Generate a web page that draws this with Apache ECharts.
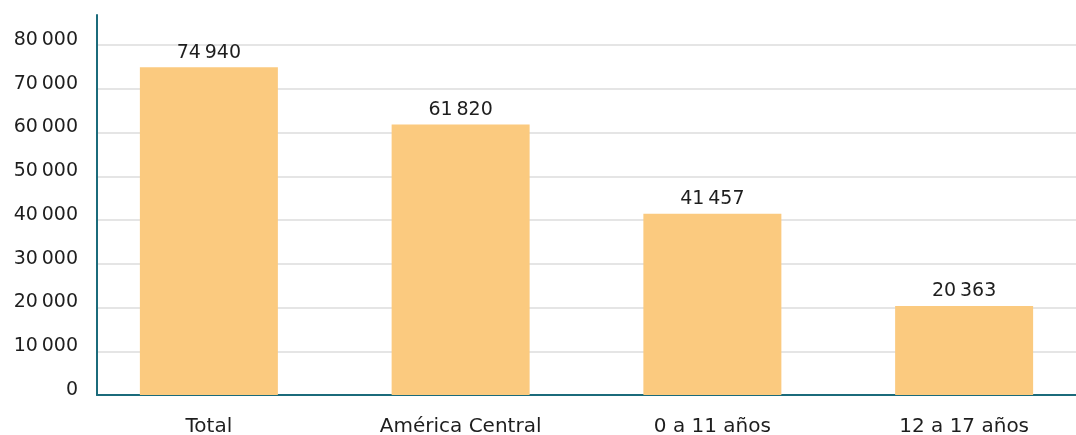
<!DOCTYPE html>
<html><head><meta charset="utf-8">
<script src="https://cdn.jsdelivr.net/npm/echarts@6/dist/echarts.min.js"></script>
<style>html,body{margin:0;padding:0;background:#fff;overflow:hidden}#c{width:1090px;height:435px}</style>
</head><body><div id="c"></div>
<script>
const categories = ['Total', 'América Central', '0 a 11 años', '12 a 17 años'];
const values = [74940, 61820, 41457, 20363];
const yTicks = [0, 10000, 20000, 30000, 40000, 50000, 60000, 70000, 80000];

function fmt(v) {
  const s = String(v);
  return s.length > 3 ? s.slice(0, s.length - 3) + '\u2009' + s.slice(-3) : s;
}
const FONT = '"DejaVu Sans", "Open Sans", sans-serif';
const FS = 19;
const TEAL = '#1b6b7b';
const TXT = '#1e1e1e';
const chart = echarts.init(document.getElementById('c'), null, {renderer: 'canvas'});
chart.setOption({
  animation: false,
  backgroundColor: '#fff',
  textStyle: {fontFamily: FONT},
  grid: [
    {left: 83, right: 0, top: 45, bottom: 40, containLabel: false, outerBoundsMode: 'none'},
    {left: 97, right: 14, top: 15, bottom: 40, containLabel: false, outerBoundsMode: 'none'},
    {left: 97, right: 14, top: 45, bottom: 40, containLabel: false, outerBoundsMode: 'none'}
  ],
  xAxis: [
    {type: 'category', gridIndex: 0, data: categories,
     axisLine: {show: false}, axisTick: {show: false},
     axisLabel: {color: TXT, fontSize: 20, fontFamily: FONT, margin: 22}},
    {type: 'value', gridIndex: 1, min: 0, max: 1,
     axisLine: {show: true, lineStyle: {color: TEAL, width: 2}},
     axisTick: {show: false}, axisLabel: {show: false}, splitLine: {show: false}},
    {type: 'value', gridIndex: 2, min: 0, max: 1, show: false}
  ],
  yAxis: [
    {type: 'value', gridIndex: 0, min: yTicks[0], max: yTicks[yTicks.length - 1], interval: 10000,
     offset: -14,
     axisLine: {show: false}, axisTick: {show: false},
     axisLabel: {color: TXT, fontSize: FS, fontFamily: FONT, margin: 19, formatter: fmt,
                 verticalAlign: 'bottom', lineHeight: 10},
     splitLine: {show: false}},
    {type: 'value', gridIndex: 1, min: 0, max: 1,
     axisLine: {show: true, lineStyle: {color: TEAL, width: 2}},
     axisTick: {show: false}, axisLabel: {show: false}, splitLine: {show: false}},
    {type: 'value', gridIndex: 2, min: yTicks[0], max: yTicks[yTicks.length - 1], interval: 10000,
     axisLine: {show: false}, axisTick: {show: false}, axisLabel: {show: false},
     splitLine: {show: true, lineStyle: {color: '#dcdcdc', width: 1.5}}}
  ],
  series: [{
    type: 'bar', xAxisIndex: 0, yAxisIndex: 0, data: values,
    barWidth: 138, z: 3,
    itemStyle: {color: '#fbca7f'},
    label: {show: true, position: 'top', distance: 5, color: TXT, fontSize: FS, fontFamily: FONT,
            formatter: p => fmt(p.value)}
  }]
});
</script></body></html>
